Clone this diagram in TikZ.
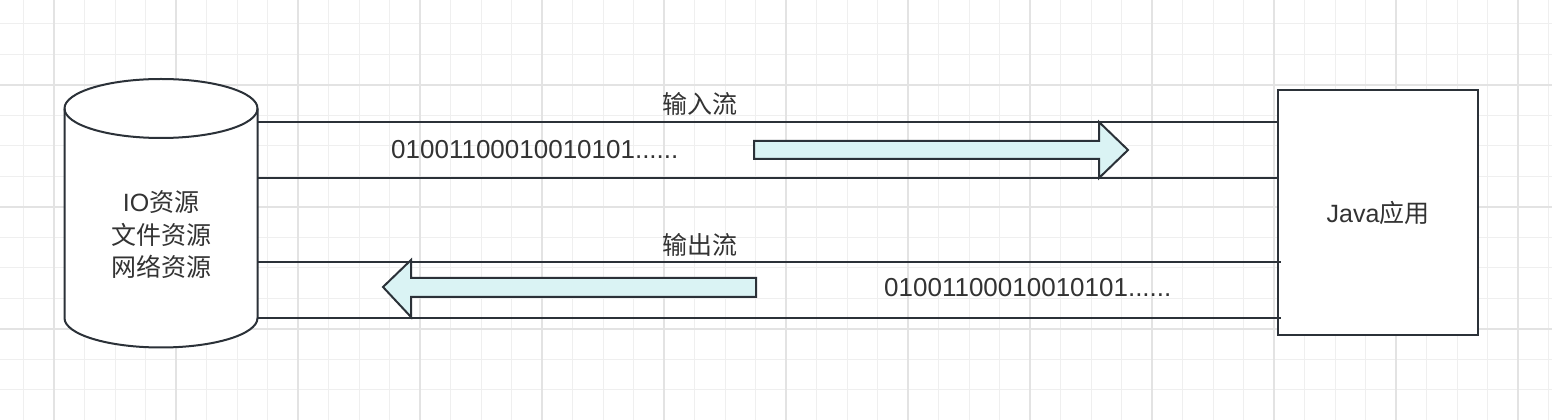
\documentclass[tikz,border=0pt]{standalone}
\usepackage{fontspec}
\setmainfont{Liberation Sans}
\newfontfamily\cjk{Noto Sans CJK SC}
\definecolor{strokec}{HTML}{2B3138}
\definecolor{fillc}{HTML}{DAF3F4}
\definecolor{textc}{HTML}{333333}
\definecolor{gridminor}{HTML}{EFEFEF}
\definecolor{gridmajor}{HTML}{E3E3E3}
\tikzset{
  minorline/.style={gridminor, line width=1pt},
  majorline/.style={gridmajor, line width=1.5pt},
  shapeline/.style={strokec, line width=2pt},
  flowline/.style={strokec, line width=2pt},
  bigarrow/.style={strokec, line width=2pt, fill=fillc, line join=miter},
  lbl/.style={text=textc, inner sep=0pt, font=\fontsize{25}{32.5}\selectfont},
  bitlbl/.style={text=textc, inner sep=0pt, font=\fontsize{26}{32}\selectfont},
}
\begin{document}
\begin{tikzpicture}[x=1pt,y=1pt]
\useasboundingbox (0,0) rectangle (1552,420);
\fill[white] (0,0) rectangle (1552,420);
% grid
\begin{scope}
\clip (0,0) rectangle (1552,420);
\foreach \i in {0,...,50} { \draw[minorline] ({23.5+30.5*\i},0) -- ++(0,420); }
\foreach \i in {0,...,13} { \draw[minorline] (0,{396-30.5*\i}) -- ++(1552,0); }
\foreach \i in {0,...,12} { \draw[majorline] ({54+122*\i},0) -- ++(0,420); }
\foreach \i in {0,...,3} { \draw[majorline] (0,{335-122*\i}) -- ++(1552,0); }
\end{scope}
% cylinder
\draw[shapeline, fill=white] (64.5,311.5) -- (64.5,102) arc(180:360:96.5pt and 29.5pt) -- (257.5,311.5) arc(0:180:96.5pt and 29.5pt) -- cycle;
\draw[shapeline] (64.5,311.5) arc(180:360:96.5pt and 29.5pt);
\node[lbl, align=center] (io) at (161,185) {IO{\cjk 资源}\\{\cjk 文件资源}\\{\cjk 网络资源}};
% java box
\node[shapeline, draw, fill=white, minimum width=200pt, minimum height=245pt, inner sep=0pt] (java) at (1378,207.5) {};
\node[lbl] (javat) at (java.center) {Java{\cjk 应用}};
% connector end points
\coordinate (c1) at (257.5,298);
\coordinate (c2) at (257.5,242);
\coordinate (c3) at (257.5,158);
\coordinate (c4) at (257.5,102);
\coordinate (j1) at (1278,298);
\coordinate (j2) at (1278,242);
\coordinate (j3) at (1281,158);
\coordinate (j4) at (1281,102);
\draw[flowline] (c1) -- (j1);
\draw[flowline] (c2) -- (j2);
\draw[flowline] (c3) -- (j3);
\draw[flowline] (c4) -- (j4);
% big arrows
\draw[bigarrow] (754,279) -- (1099,279) -- (1099,298) -- (1128,270) -- (1099,242) -- (1099,261) -- (754,261) -- cycle;
\draw[bigarrow] (756,142) -- (411,142) -- (411,160) -- (383,133) -- (411,103) -- (411,123) -- (756,123) -- cycle;
% labels
\node[lbl] (inl) at (700,316) {\cjk 输入流};
\node[lbl] (outl) at (700,175) {\cjk 输出流};
\node[bitlbl, anchor=west] (bits1) at (391,270) {01001100010010101......};
\node[bitlbl, anchor=west] (bits2) at (884,132) {01001100010010101......};
\end{tikzpicture}
\end{document}
